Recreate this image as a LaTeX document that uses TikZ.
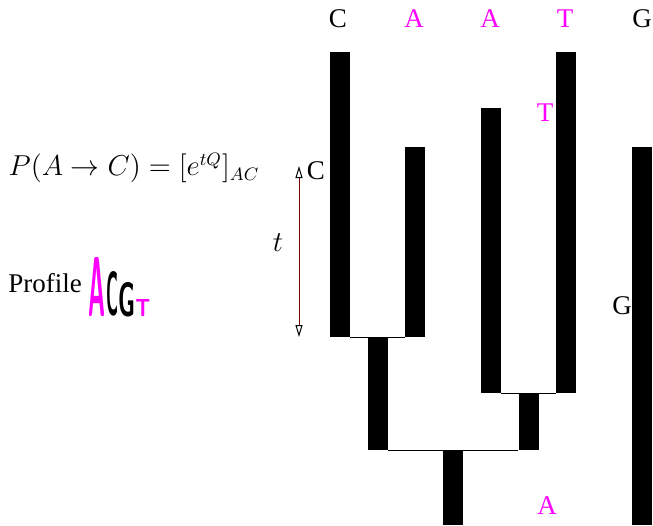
\documentclass[tikz,border=0pt]{standalone}
\usepackage{fontspec}
\setmainfont{Liberation Serif}
\usetikzlibrary{arrows.meta}
\definecolor{pink}{RGB}{255,0,255}
\definecolor{branchred}{RGB}{128,0,0}

\begin{document}
\begin{tikzpicture}[x=0.5pt,y=-0.5pt,
base/.style={font=\fontsize{13.5}{15}\selectfont,inner sep=0pt},
mbase/.style={base,text=pink},
bar/.style={fill=black,inner sep=0pt,minimum width=10pt,anchor=north},
link/.style={line width=0.5pt},
logo/.style={inner sep=0pt,anchor=south west,font=\sffamily\bfseries},
timearrow/.style={{Triangle[open,length=6pt,width=3.5pt,color=black]}-{Triangle[open,length=6pt,width=3.5pt,color=black]},draw=branchred,line width=0.5pt} ]

\useasboundingbox (0,0) rectangle (653,525);

% leaves
\node[base](lC) at (338,19) {C};
\node[mbase](lA1) at (414,19) {A};
\node[mbase](lA2) at (490,19) {A};
\node[mbase](lT) at (565,19) {T};
\node[base](lG) at (642,19) {G};

% branches
\node[bar,minimum height=142.5pt](bC) at (339.5,52) {};
\node[bar,minimum height=95pt](bA1) at (415,147) {};
\node[bar,minimum height=56.5pt](bCA) at (377.5,337) {};
\node[bar,minimum height=142.5pt](bA2) at (491,108) {};
\node[bar,minimum height=170.5pt](bT) at (566,52) {};
\node[bar,minimum height=28.5pt](bAT) at (528.5,393) {};
\node[bar,minimum height=37.5pt](bR) at (453,450) {};
\node[bar,minimum height=189pt](bG) at (642,147) {};

\draw[link] (bC.south east) -- (bA1.south west);
\draw[link] (bA2.south east) -- (bT.south west);
\draw[link] (bCA.south east) -- (bAT.south west);

% ancestral states
\node[mbase](sT) at (545,113) {T};
\node[base](sC) at (316,171) {C};
\node[base](sG) at (622,306) {G};
\node[mbase](sA) at (547,506) {A};

% branch length
\coordinate (t0) at (299,166);
\coordinate (t1) at (299,337);
\draw[timearrow] (t0) -- (t1);
\node[font=\fontsize{13.5}{15}\selectfont](tl) at (278,243) {$t$};

\node[font=\fontsize{13.5}{15}\selectfont](P) at (134,168) {$P(A\rightarrow C)=[e^{tQ}]_{AC}$};

% profile
\node[base](prof) at (45,283) {Profile};
\node[logo,text=pink](gA) at (88,317) {\resizebox{8.5pt}{29.5pt}{A}};
\node[logo](gC) at (106,317) {\resizebox{6pt}{22pt}{C}};
\node[logo](gG) at (118,317) {\resizebox{8.5pt}{17pt}{G}};
\node[logo,text=pink](gT) at (135,317) {\resizebox{7.5pt}{8.5pt}{T}};

\end{tikzpicture}
\end{document}
